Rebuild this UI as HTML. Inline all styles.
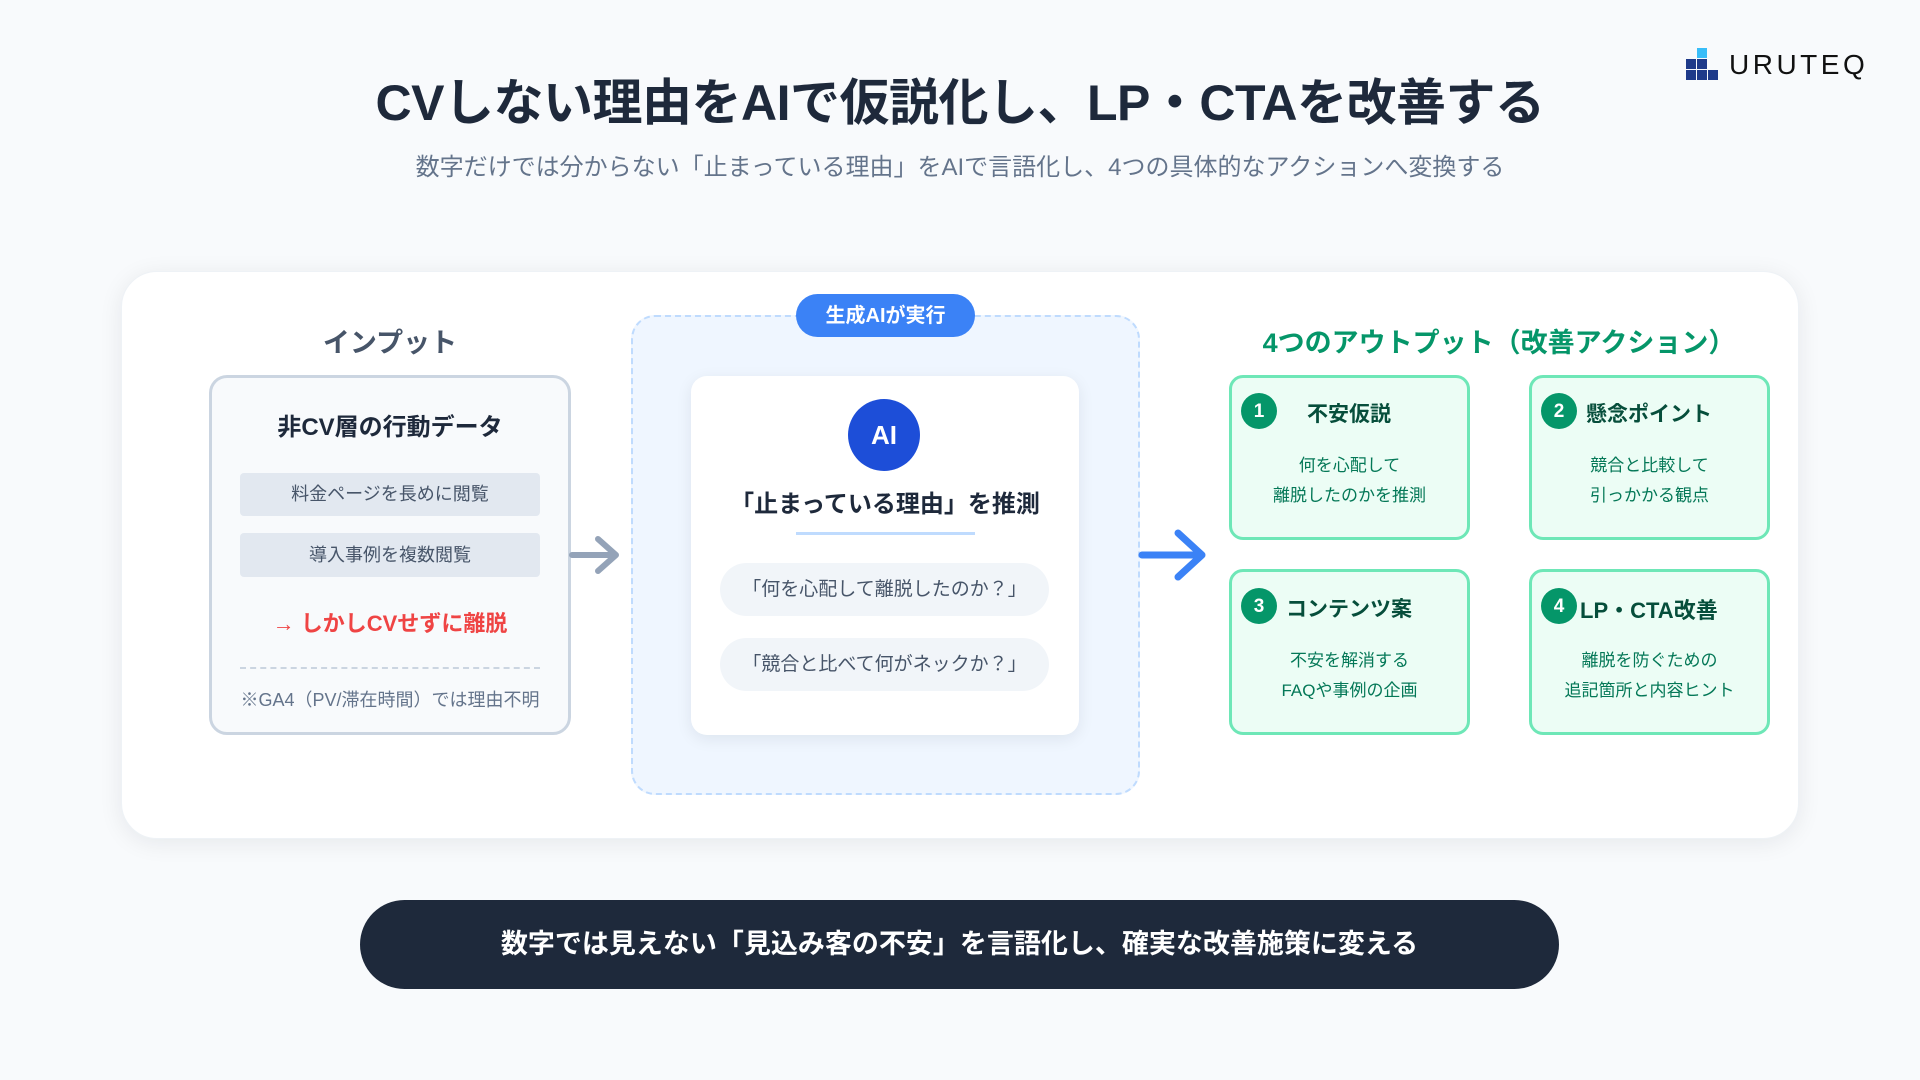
<!DOCTYPE html>
<html><head><meta charset="utf-8">
<style>
*{margin:0;padding:0;box-sizing:border-box}
body{width:1920px;height:1080px;background:#f8fafc;font-family:"Liberation Sans","Noto Sans CJK JP",sans-serif;position:relative;overflow:hidden;color:#1e293b}
.a{position:absolute}
.c{text-align:center;white-space:nowrap}
.sq{position:absolute;width:10px;height:10px;background:#1e3a8a}
</style></head><body>
<div class="a" style="left:1686px;top:48px;width:34px;height:34px">
<div class="sq" style="left:11px;top:0;background:#38bdf8"></div>
<div class="sq" style="left:0;top:11px"></div><div class="sq" style="left:11px;top:11px"></div>
<div class="sq" style="left:0;top:22px"></div><div class="sq" style="left:11px;top:22px"></div><div class="sq" style="left:22px;top:22px"></div>
</div>
<div class="a" style="left:1729px;top:49px;font-size:28px;letter-spacing:3.5px;color:#111">URUTEQ</div>

<div class="a c" style="left:0;width:1920px;top:63px;font-size:50px;font-weight:bold;color:#1e293b;letter-spacing:-0.5px">CVしない理由をAIで仮説化し、LP・CTAを改善する</div>
<div class="a c" style="left:0;width:1920px;top:147px;font-size:24px;color:#64748b">数字だけでは分からない「止まっている理由」をAIで言語化し、4つの具体的なアクションへ変換する</div>

<div class="a" style="left:121px;top:271px;width:1678px;height:568px;background:#fff;border-radius:36px;box-shadow:0 4px 24px rgba(15,23,42,0.08);border:1px solid #eef2f6"></div>

<div class="a c" style="left:209px;width:362px;top:321px;font-size:27px;font-weight:bold;color:#475569">インプット</div>
<div class="a" style="left:209px;top:375px;width:362px;height:360px;background:#f8fafc;border:3px solid #cbd5e1;border-radius:18px"></div>
<div class="a c" style="left:209px;width:362px;top:407px;font-size:24px;font-weight:bold;color:#1e293b">非CV層の行動データ</div>
<div class="a c" style="left:240px;top:473px;width:300px;height:43px;background:#e2e8f0;border-radius:4px;font-size:18px;color:#475569;line-height:43px">料金ページを長めに閲覧</div>
<div class="a c" style="left:240px;top:533px;width:300px;height:44px;background:#e2e8f0;border-radius:4px;font-size:18px;color:#475569;line-height:44px">導入事例を複数閲覧</div>
<div class="a c" style="left:209px;width:362px;top:606px;font-size:22px;font-weight:bold;color:#ef4444">→ しかしCVせずに離脱</div>
<div class="a" style="left:240px;top:667px;width:300px;border-top:2px dashed #cbd5e1"></div>
<div class="a c" style="left:209px;width:362px;top:686px;font-size:18px;color:#64748b">※GA4（PV/滞在時間）では理由不明</div>

<svg class="a" style="left:568px;top:535px" width="56" height="42"><path d="M4 20 H48 M30 4 L48 20 L30 36" stroke="#94a3b8" stroke-width="6" fill="none" stroke-linecap="round" stroke-linejoin="round"/></svg>

<div class="a" style="left:631px;top:315px;width:509px;height:480px;background:#eff6ff;border:2px dashed #bfdbfe;border-radius:24px"></div>
<div class="a c" style="left:796px;top:294px;width:179px;height:43px;background:#3b82f6;border-radius:22px;color:#fff;font-size:20px;font-weight:bold;line-height:45px">生成AIが実行</div>
<div class="a" style="left:691px;top:376px;width:388px;height:359px;background:#fff;border-radius:16px;box-shadow:0 4px 16px rgba(15,23,42,0.08)"></div>
<div class="a c" style="left:848px;top:399px;width:72px;height:72px;border-radius:50%;background:#1d4ed8;color:#fff;font-size:26px;font-weight:bold;line-height:72px">AI</div>
<div class="a c" style="left:691px;width:388px;top:484px;font-size:24px;font-weight:bold;color:#1e293b">「止まっている理由」を推測</div>
<div class="a" style="left:796px;top:532px;width:179px;height:3px;background:#bfdbfe"></div>
<div class="a c" style="left:720px;top:563px;width:329px;height:53px;background:#f1f5f9;border-radius:27px;font-size:19px;color:#475569;line-height:53px">「何を心配して離脱したのか？」</div>
<div class="a c" style="left:720px;top:638px;width:329px;height:53px;background:#f1f5f9;border-radius:27px;font-size:19px;color:#475569;line-height:53px">「競合と比べて何がネックか？」</div>

<svg class="a" style="left:1138px;top:529px" width="72" height="52"><path d="M4 26 H64 M40 4 L64 26 L40 48" stroke="#3b82f6" stroke-width="7" fill="none" stroke-linecap="round" stroke-linejoin="round"/></svg>

<div class="a c" style="left:1229px;width:540px;top:321px;font-size:27px;font-weight:bold;color:#059669">4つのアウトプット（改善アクション）</div>

<div class="a" style="left:1229px;top:375px;width:241px;height:165px;background:#ecfdf5;border:3px solid #6ee7b7;border-radius:14px"></div>
<div class="a" style="left:1529px;top:375px;width:241px;height:165px;background:#ecfdf5;border:3px solid #6ee7b7;border-radius:14px"></div>
<div class="a" style="left:1229px;top:569px;width:241px;height:166px;background:#ecfdf5;border:3px solid #6ee7b7;border-radius:14px"></div>
<div class="a" style="left:1529px;top:569px;width:241px;height:166px;background:#ecfdf5;border:3px solid #6ee7b7;border-radius:14px"></div>

<div class="a c" style="left:1241px;top:393px;width:36px;height:36px;border-radius:50%;background:#059669;color:#fff;font-size:19px;font-weight:bold;line-height:38px">1</div>
<div class="a" style="left:1307px;top:398px;font-size:21px;font-weight:bold;color:#064e3b">不安仮説</div>
<div class="a c" style="left:1229px;width:241px;top:451px;font-size:17px;line-height:30px;color:#047857">何を心配して<br>離脱したのかを推測</div>

<div class="a c" style="left:1541px;top:393px;width:36px;height:36px;border-radius:50%;background:#059669;color:#fff;font-size:19px;font-weight:bold;line-height:38px">2</div>
<div class="a" style="left:1586px;top:398px;font-size:21px;font-weight:bold;color:#064e3b">懸念ポイント</div>
<div class="a c" style="left:1529px;width:241px;top:451px;font-size:17px;line-height:30px;color:#047857">競合と比較して<br>引っかかる観点</div>

<div class="a c" style="left:1241px;top:588px;width:36px;height:36px;border-radius:50%;background:#059669;color:#fff;font-size:19px;font-weight:bold;line-height:38px">3</div>
<div class="a" style="left:1286px;top:593px;font-size:21px;font-weight:bold;color:#064e3b">コンテンツ案</div>
<div class="a c" style="left:1229px;width:241px;top:646px;font-size:17px;line-height:30px;color:#047857">不安を解消する<br>FAQや事例の企画</div>

<div class="a c" style="left:1541px;top:588px;width:36px;height:36px;border-radius:50%;background:#059669;color:#fff;font-size:19px;font-weight:bold;line-height:38px">4</div>
<div class="a" style="left:1580px;top:593px;font-size:22px;font-weight:bold;color:#064e3b">LP・CTA改善</div>
<div class="a c" style="left:1529px;width:241px;top:646px;font-size:17px;line-height:30px;color:#047857">離脱を防ぐための<br>追記箇所と内容ヒント</div>

<div class="a c" style="left:360px;top:900px;width:1199px;height:89px;background:#1e293b;border-radius:45px;color:#fff;font-size:27px;font-weight:bold;line-height:89px">数字では見えない「見込み客の不安」を言語化し、確実な改善施策に変える</div>
</body></html>
